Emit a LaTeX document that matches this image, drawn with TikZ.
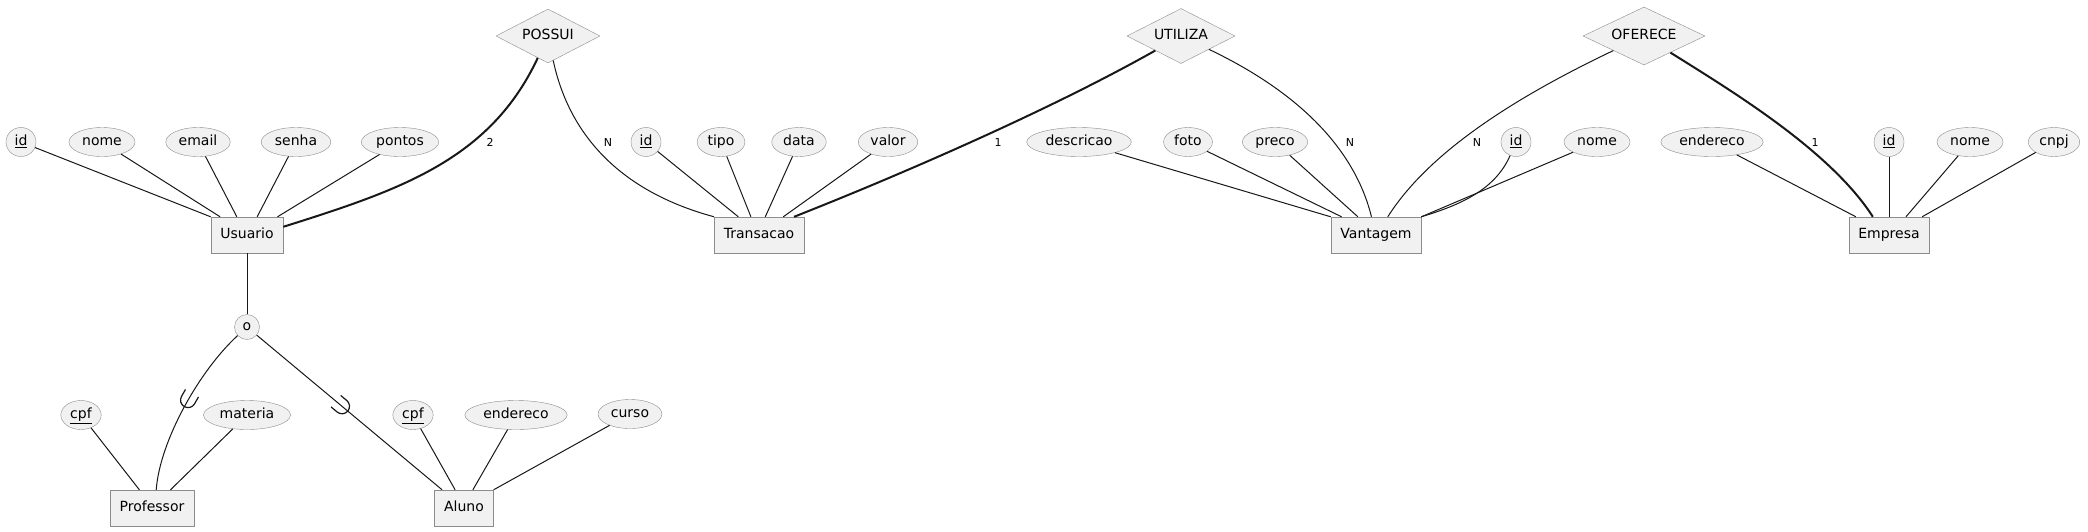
\documentclass[tikz,border=0pt]{standalone}
\usepackage{fontspec}
\setmainfont{DejaVu Sans}
\usetikzlibrary{shapes.geometric,calc,decorations.markings}
\definecolor{fillc}{HTML}{F1F1F1}
\definecolor{bordc}{HTML}{8C8C8C}
\definecolor{linec}{HTML}{181818}
\begin{document}
\begin{tikzpicture}[x=1pt,y=-1pt,
  font=\fontsize{14}{16}\selectfont,
  attr/.style={ellipse, draw=bordc, fill=fillc, inner xsep=3.5pt, inner ysep=0pt,
    minimum height=29pt, minimum width=30pt, text height=10.5pt, text depth=3pt},
  ent/.style={rectangle, draw=bordc, fill=fillc, inner xsep=9.5pt, inner ysep=0pt,
    minimum height=36pt, text height=10.5pt, text depth=3pt},
  rel/.style={diamond, aspect=2, draw=bordc, fill=fillc, inner sep=0pt,
    minimum height=54pt, text height=10.5pt, text depth=3pt},
  circ/.style={circle, draw=bordc, fill=fillc, inner sep=0pt, minimum size=25pt},
  conn/.style={draw=linec, line width=1pt},
  tot/.style={draw=linec, line width=2pt},
  card/.style={font=\fontsize{11}{13}\selectfont, text=black, inner sep=0pt},
  subsetmark/.style={postaction={decorate, decoration={markings,
    mark=at position #1 with {\draw[draw=linec, line width=1.2pt]
      (-8pt,7.5pt) -- (0pt,7.5pt) arc[start angle=90, end angle=-90, radius=7.5pt] -- (-8pt,-7.5pt);}}}}
]
\fill[white] (0,0) rectangle (2088,531);
\useasboundingbox (0,0) rectangle (2088,531);

% Usuario
\node[attr] (uid) at (21,142) {\underline{id}};
\node[attr] (unome) at (102,142) {nome};
\node[attr] (uemail) at (198,142) {email};
\node[attr] (usenha) at (296,142) {senha};
\node[attr] (upontos) at (400,142) {pontos};
\node[ent] (U) at (247,235) {Usuario};
\node[rel, minimum width=104pt] (possui) at (548,36) {POSSUI};

% Transacao
\node[attr] (tid) at (646,142) {\underline{id}};
\node[attr] (ttipo) at (721,142) {tipo};
\node[attr] (tdata) at (799,142) {data};
\node[attr] (tvalor) at (888,142) {valor};
\node[ent] (T) at (759,235) {Transacao};
\node[rel, minimum width=108pt, minimum height=55pt] (utiliza) at (1181,36) {UTILIZA};

% Vantagem
\node[attr] (vdesc) at (1079,142) {descricao};
\node[attr] (vfoto) at (1188,142) {foto};
\node[attr] (vpreco) at (1275,142) {preco};
\node[attr] (vid) at (1516,142) {\underline{id}};
\node[attr] (vnome) at (1597,142) {nome};
\node[ent] (V) at (1376,235) {Vantagem};
\node[rel, minimum width=122pt, minimum height=58pt] (oferece) at (1644,36) {OFERECE};

% Empresa
\node[attr] (eend) at (1712,142) {endereco};
\node[attr] (eid) at (1889,142) {\underline{id}};
\node[attr] (enome) at (1970,142) {nome};
\node[attr] (ecnpj) at (2054,142) {cnpj};
\node[ent] (E) at (1889,235) {Empresa};

% specialization
\node[circ] (o) at (247,327) {o};
\node[attr] (pcpf) at (81,415) {\underline{cpf}};
\node[attr] (pmat) at (247,415) {materia};
\node[ent] (P) at (152,508) {Professor};
\node[attr] (acpf) at (413,415) {\underline{cpf}};
\node[attr] (aend) at (516,415) {endereco};
\node[attr] (acurso) at (630,414) {curso};
\node[ent] (A) at (464,508) {Aluno};

% cardinality labels
\node[card] (l2) at (490,142) {2};
\node[card] (lN1) at (608,142) {N};
\node[card] (l1a) at (998,142) {1};
\node[card] (lN2) at (1350,142) {N};
\node[card] (lN3) at (1477,142) {N};
\node[card] (l1b) at (1815,142) {1};

% Usuario attributes
\draw[conn] (uid) -- (U.north west);
\draw[conn] (unome) -- ($(U.north west)!.13!(U.north east)$);
\draw[conn] (uemail) -- ($(U.north west)!.36!(U.north east)$);
\draw[conn] (usenha) -- ($(U.north west)!.64!(U.north east)$);
\draw[conn] (upontos) -- ($(U.north west)!.92!(U.north east)$);

% Transacao attributes
\draw[conn] (tid) -- ($(T.north west)!.27!(T.north east)$);
\draw[conn] (ttipo) -- ($(T.north west)!.41!(T.north east)$);
\draw[conn] (tdata) -- ($(T.north west)!.57!(T.north east)$);
\draw[conn] (tvalor) -- ($(T.north west)!.77!(T.north east)$);

% Vantagem attributes
\draw[conn] (vdesc) -- (V.north west);
\draw[conn] (vfoto) -- ($(V.north west)!.12!(V.north east)$);
\draw[conn] (vpreco) -- ($(V.north west)!.30!(V.north east)$);
\draw[conn] (vid) .. controls (1495,190) and (1460,205) .. (V.north east);
\draw[conn] (vnome) -- (V.north east);

% Empresa attributes
\draw[conn] (eend) -- ($(E.north west)!.09!(E.north east)$);
\draw[conn] (eid) -- (E.north);
\draw[conn] (enome) -- ($(E.north west)!.71!(E.north east)$);
\draw[conn] (ecnpj) -- ($(E.north west)!.91!(E.north east)$);

% relationships
\draw[tot] (possui) .. controls (490,160) and (400,190) .. ($(U.north east)+(0,10)$);
\draw[conn] (possui) .. controls (568,130) and (615,190) .. (T.north west);
\draw[tot] (utiliza) .. controls (1050,110) and (900,175) .. ($(T.north west)!.89!(T.north east)$);
\draw[conn] (utiliza) .. controls (1315,100) and (1358,162) .. ($(V.north west)!.45!(V.north east)$);
\draw[conn] (oferece) .. controls (1520,95) and (1430,150) .. ($(V.north west)!.63!(V.north east)$);
\draw[tot] (oferece) .. controls (1730,90) and (1830,150) .. ($(E.north west)!.30!(E.north east)$);

% specialization
\draw[conn] (U) -- (o);
\draw[conn, subsetmark=0.46] (o) .. controls (200,370) and (160,440) .. ($(P.north west)!.55!(P.north east)$);
\draw[conn, subsetmark=0.46] (o) -- ($(A.north west)!.13!(A.north east)$);

% subclass attributes
\draw[conn] (pcpf) -- ($(P.north west)!.35!(P.north east)$);
\draw[conn] (pmat) -- ($(P.north west)!.72!(P.north east)$);
\draw[conn] (acpf) -- ($(A.north west)!.35!(A.north east)$);
\draw[conn] (aend) -- ($(A.north west)!.65!(A.north east)$);
\draw[conn] (acurso) -- (A.north east);
\end{tikzpicture}
\end{document}
